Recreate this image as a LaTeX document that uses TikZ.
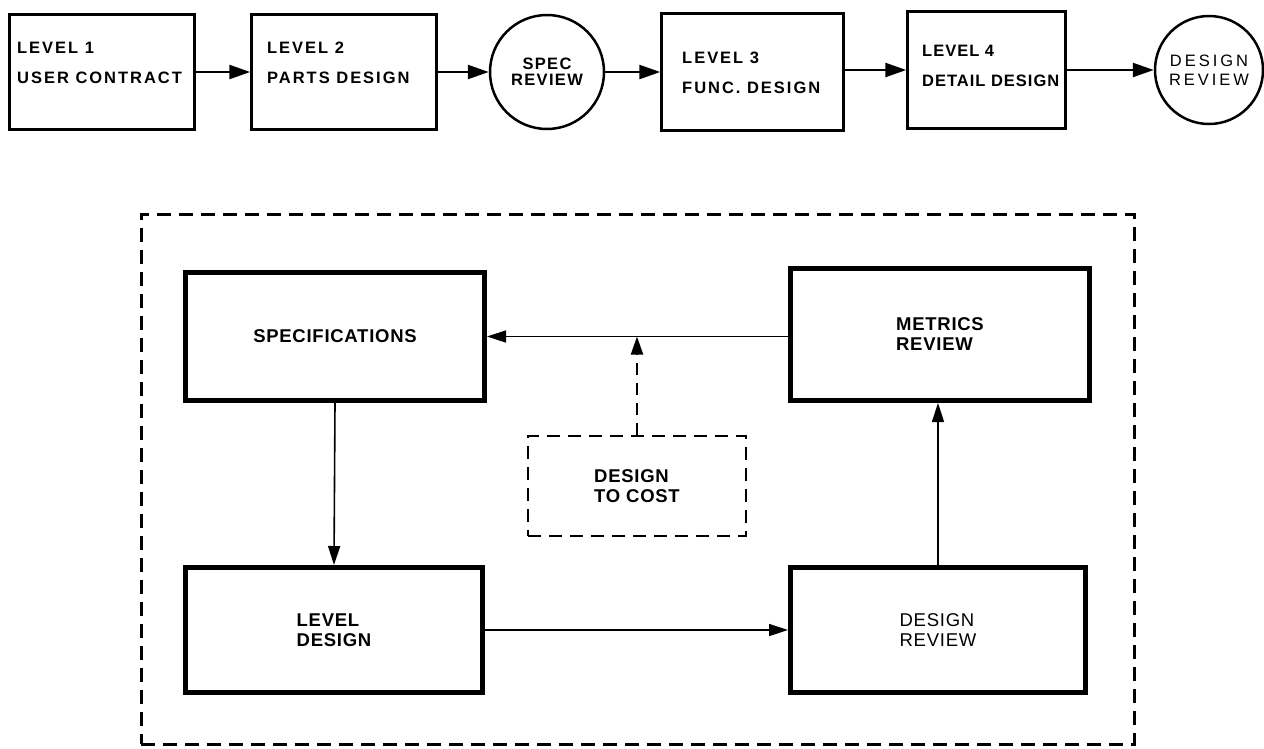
\documentclass[tikz,border=0pt]{standalone}
\usepackage{fontspec}
\setmainfont{Liberation Sans}
\newfontfamily\topf[LetterSpace=12]{Liberation Sans}
\newfontfamily\topg[LetterSpace=6]{Liberation Sans}
\newfontfamily\botf[LetterSpace=4]{Liberation Sans}
\newfontfamily\circf[LetterSpace=8]{Liberation Sans}
\newfontfamily\circg[LetterSpace=18]{Liberation Sans}
\usetikzlibrary{arrows.meta,shapes.geometric}
\begin{document}
\begin{tikzpicture}[x=1pt,y=-1pt,
  topbox/.style={draw, line width=2.5pt, inner sep=0pt},
  topcirc/.style={draw, circle, line width=2.5pt, inner sep=0pt, align=center},
  toptext/.style={anchor=north west, inner sep=0pt, align=left, font=\topf\bfseries\fontsize{16.5}{30}\selectfont},
  botbox/.style={draw, line width=5pt, inner sep=0pt, align=left, font=\botf\bfseries\fontsize{18.5}{20}\selectfont},
  botboxr/.style={botbox, font=\botf\fontsize{18.5}{20}\selectfont},
  topar/.style={line width=2.5pt, -{Triangle[length=21pt,width=14pt]}},
  botar/.style={line width=1.6pt, -{Triangle[length=19pt,width=12pt]}},
  dasharr/.style={line width=2pt, dash pattern=on 12pt off 8pt, -{Triangle[length=18pt,width=12pt]}}
]
\useasboundingbox (0,0) rectangle (1264,748);
% top row
\node[topbox, minimum width=185pt, minimum height=115pt] (b1) at (102,72) {};
\node[topbox, minimum width=185pt, minimum height=115pt] (b2) at (344,72) {};
\node[topcirc, minimum size=114pt, font=\circf\bfseries\fontsize{16.5}{16}\selectfont] (c1) at (547,72) {SPEC\\REVIEW};
\node[topbox, minimum width=182pt, minimum height=117pt] (b3) at (752.5,72) {};
\node[topbox, minimum width=158pt, minimum height=117pt] (b4) at (986.5,70) {};
\node[topcirc, minimum size=108pt, font=\circg\fontsize{16.5}{19}\selectfont] (c2) at (1209,70) {DESIGN\\REVIEW};
\node[toptext] (t1) at (17,42) {LEVEL 1\\USER CONTRACT};
\node[toptext] (t2) at (267,42) {LEVEL 2\\PARTS DESIGN};
\node[toptext] (t3) at (682,52) {LEVEL 3\\FUNC. DESIGN};
\node[toptext, font=\topg\bfseries\fontsize{16.5}{30}\selectfont] (t4) at (922,45) {LEVEL 4\\DETAIL DESIGN};
\draw[topar] (b1.east) -- (b2.west);
\draw[topar] (b2.east) -- (c1.west);
\draw[topar] (c1.east) -- (b3.west);
\draw[topar] (b3.east |- b4.west) -- (b4.west);
\draw[topar] (b4.east) -- (c2.west);
% outer dashed frame
\node[draw, line width=3pt, dash pattern=on 14pt off 8pt, minimum width=993pt, minimum height=530pt, inner sep=0pt] (frame) at (637.5,479) {};
% bottom boxes
\node[botbox, minimum width=299pt, minimum height=128pt] (spec) at (335,336.5) {SPECIFICATIONS};
\node[botbox, minimum width=299pt, minimum height=132pt] (met) at (940,334.5) {METRICS\\REVIEW};
\node[botbox, minimum width=297pt, minimum height=125pt] (lev) at (334,630) {LEVEL\\DESIGN};
\node[botboxr, minimum width=295pt, minimum height=125pt] (dr) at (938,630) {DESIGN\\REVIEW};
\node[draw, line width=2pt, dash pattern=on 13pt off 8pt, minimum width=218pt, minimum height=100pt, inner sep=0pt, align=left, font=\botf\bfseries\fontsize{18.5}{20}\selectfont] (dtc) at (637,486) {DESIGN\\TO COST};
\coordinate (j) at (dtc.north |- spec.east);
\draw[botar] (spec.east -| met.west) -- (spec.east);
\draw[dasharr] (dtc.north) -- (j);
\draw[botar] (spec.south) -- (lev.north);
\draw[botar] (lev.east) -- (dr.west);
\draw[botar] (dr.north) -- (dr.north |- met.south);
\end{tikzpicture}
\end{document}
